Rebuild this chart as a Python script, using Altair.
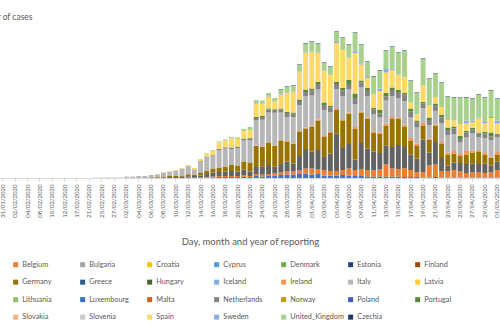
import altair as alt
import pandas as pd

dates = [
    "31/01/2020", "01/02/2020", "02/02/2020", "03/02/2020", "04/02/2020", "06/02/2020",
    "08/02/2020", "09/02/2020", "10/02/2020", "11/02/2020", "12/02/2020", "13/02/2020",
    "17/02/2020", "19/02/2020", "21/02/2020", "22/02/2020", "25/02/2020", "26/02/2020",
    "27/02/2020", "29/02/2020",
    "02/03/2020", "03/03/2020", "04/03/2020", "05/03/2020", "06/03/2020", "07/03/2020",
    "08/03/2020", "09/03/2020", "10/03/2020", "11/03/2020", "12/03/2020", "13/03/2020",
    "14/03/2020", "15/03/2020", "16/03/2020", "17/03/2020", "18/03/2020", "19/03/2020",
    "20/03/2020", "21/03/2020", "22/03/2020", "23/03/2020", "24/03/2020", "25/03/2020",
    "26/03/2020", "27/03/2020", "28/03/2020", "29/03/2020", "30/03/2020", "31/03/2020",
    "01/04/2020", "02/04/2020", "03/04/2020", "04/04/2020", "05/04/2020", "06/04/2020",
    "07/04/2020", "08/04/2020", "09/04/2020", "10/04/2020", "11/04/2020", "12/04/2020",
    "13/04/2020", "14/04/2020", "15/04/2020", "16/04/2020", "17/04/2020", "18/04/2020",
    "19/04/2020", "20/04/2020", "21/04/2020", "22/04/2020", "23/04/2020", "24/04/2020",
    "25/04/2020", "26/04/2020", "27/04/2020", "28/04/2020", "29/04/2020", "30/04/2020",
    "01/05/2020",
]

# stacking order (bottom to top) and Excel-style series colours
countries = [
    "Austria", "Belgium", "Bulgaria", "Croatia", "Cyprus", "Denmark", "Estonia", "Finland",
    "France", "Germany", "Greece", "Hungary", "Iceland", "Ireland", "Italy", "Latvia",
    "Liechtenstein", "Lithuania", "Luxembourg", "Malta", "Netherlands", "Norway", "Poland",
    "Portugal", "Romania", "Slovakia", "Slovenia", "Spain", "Sweden", "United_Kingdom", "Czechia",
]
colors = [
    "#4472C4", "#ED7D31", "#A5A5A5", "#FFC000", "#5B9BD5", "#70AD47", "#264478", "#9E480E",
    "#636363", "#997300", "#255E91", "#43682B", "#7CAFDD", "#F1975A", "#B7B7B7", "#FFCD33",
    "#698ED0", "#8CC168", "#3A70C0", "#D26012", "#848484", "#CC9A00", "#3F5FB8",
    "#5A8A39", "#9DC3E6", "#F4B183", "#C9C9C9", "#FFD966", "#8FAADC", "#A9D18E", "#203864",
]
legend_countries = [
    "Belgium", "Bulgaria", "Croatia", "Cyprus", "Denmark", "Estonia", "Finland",
    "Germany", "Greece", "Hungary", "Iceland", "Ireland", "Italy", "Latvia",
    "Lithuania", "Luxembourg", "Malta", "Netherlands", "Norway", "Poland", "Portugal",
    "Slovakia", "Slovenia", "Spain", "Sweden", "United_Kingdom", "Czechia",
]

austria = [0]*22 + [0, 0, 0, 0, 0, 0, 0, 0, 0, 0, 0, 100, 150, 200, 200, 200, 200, 250, 200,
    400, 300, 400, 500, 600, 700, 700, 800, 900, 700, 800, 500, 500, 500, 600, 500, 400, 400,
    300, 300, 300, 300, 300, 300, 200, 200, 200, 100, 100, 200, 100, 100, 100, 100, 100, 100,
    100, 100, 100, 100]
belgium = [0]*22 + [0, 0, 0, 0, 0, 0, 0, 0, 50, 50, 100, 100, 150, 200, 200, 200, 200, 250, 200,
    400, 350, 400, 450, 500, 600, 600, 700, 1000, 1200, 1000, 1100, 900, 900, 1000, 1400, 1200, 1400,
    1300, 1200, 1400, 2400, 1600, 1500, 1700, 1400, 1000, 1100, 2400, 2500, 1300, 1300, 1500, 1200,
    900, 1000, 1100, 900, 1000, 1500]
france = [0]*20 + [10, 20, 0, 100, 100, 100, 150, 200, 200, 250, 300, 350, 400, 600, 800, 800, 900,
    1000, 900, 1200, 900, 1400, 1600, 1800, 1300, 1700, 2000, 1600, 2900, 3900, 3400, 3800, 2600,
    3500, 7500, 4400, 4900, 2100, 5200, 4300, 3800, 3300, 3800, 4300, 4800, 4300, 3100, 2700, 6500,
    2600, 4500, 2600, 1100, 1500, 1700, 1800, 1800, 1600, 1900, 1400, 1700]
germany = [0]*20 + [20, 30, 0, 0, 50, 100, 150, 200, 200, 250, 400, 300, 500, 700, 800, 900, 1000,
    1200, 1200, 1600, 1800, 4200, 4000, 4500, 4200, 4700, 4000, 3900, 4800, 4100, 5000, 5900, 4000,
    4100, 4700, 5400, 6100, 6100, 6100, 5900, 3700, 3800, 4000, 5600, 5200, 4100, 2700, 2500, 2800,
    2500, 3300, 2900, 2200, 1800, 1500, 1800, 2200, 2400, 1700, 1600, 1300]
italy = [0]*14 + [20, 60, 50, 90, 90, 80, 250, 240, 400, 300, 450, 550, 800, 900, 1100, 1300, 1500,
    900, 2300, 2600, 2500, 3500, 3600, 3200, 3500, 4200, 4400, 5000, 5300, 5900, 6500, 5500, 4800,
    5200, 5200, 6200, 6000, 6000, 5200, 4000, 4000, 4800, 4700, 4600, 4800, 4300, 3600, 3000, 4600,
    4200, 3900, 4700, 4100, 3200, 3000, 2700, 2700, 3800, 3500, 3400, 2300, 2700, 3400, 2600, 3000,
    3300, 3000]
netherlands = [0]*22 + [0, 0, 0, 0, 0, 0, 0, 50, 100, 100, 100, 200, 150, 200, 250, 300, 300, 350,
    400, 500, 550, 600, 550, 600, 800, 700, 800, 900, 1000, 1100, 1000, 900, 1000, 1100, 1000, 1200,
    1000, 1200, 900, 800, 800, 1200, 1200, 1300, 1200, 1000, 900, 1000, 1200, 1100, 1000, 1100, 700,
    1000, 800, 700, 900, 700, 600]
spain = [0]*22 + [0, 0, 0, 50, 100, 100, 100, 150, 200, 300, 300, 600, 900, 1300, 1300, 1800, 1500,
    1500, 1600, 2600, 2400, 2300, 1600, 2800, 3900, 4200, 5600, 7400, 7300, 5800, 6300, 6300, 7800,
    7700, 4400, 8100, 3200, 2000, 2700, 3800, 4100, 3500, 3000, 3200, 1200, 1200, 3300, 2400, 1300,
    1600, 1500, 1200, 2400, 1500, 1200, 2800, 1800, 2900, 2100]
united_kingdom = [0]*22 + [0, 0, 0, 0, 0, 0, 0, 0, 50, 0, 100, 100, 150, 200, 250, 300, 300, 400,
    600, 700, 600, 700, 600, 800, 1000, 1000, 1200, 1600, 1900, 1700, 1500, 1400, 2000, 2200, 2500,
    3800, 3700, 3000, 3600, 3600, 3600, 4300, 4300, 5200, 4300, 4300, 5300, 5300, 4600, 4800, 4600,
    4600, 5200, 4600, 4300, 4600, 4900, 5300, 4300]
ireland = [0]*22 + [0, 0, 0, 0, 0, 0, 0, 0, 0, 0, 0, 0, 0, 0, 0, 0, 0, 0, 0, 100, 100, 100, 100, 100,
    100, 150, 200, 200, 200, 200, 200, 200, 200, 200, 200, 400, 200, 300, 200, 300, 400, 400, 300,
    400, 600, 500, 500, 300, 200, 300, 400, 500, 300, 800, 400, 400, 400, 200, 600]
portugal = [0]*22 + [0, 0, 0, 0, 0, 0, 0, 0, 0, 0, 0, 0, 0, 0, 0, 0, 0, 50, 100, 200, 200, 200,
    150, 200, 200, 250, 300, 500, 400, 400, 500, 300, 400, 500, 800, 900, 400, 400, 300, 700, 700,
    500, 400, 300, 600, 400, 300, 500, 300, 500, 500, 400, 600, 300, 300, 200, 300, 800]
sweden = [0]*22 + [0, 0, 0, 0, 0, 0, 0, 0, 0, 0, 0, 0, 0, 0, 0, 0, 0, 0, 0, 100, 100, 100, 50, 100,
    100, 100, 100, 200, 100, 100, 100, 100, 200, 100, 100, 200, 200, 200, 0, 500, 700, 300, 100, 0,
    0, 0, 0, 0, 0, 0, 0, 0, 0, 600, 300, 200, 200, 200, 600]
czechia = [0]*45 + [100]*36

series = {
    "Austria": austria, "Belgium": belgium, "France": france, "Germany": germany,
    "Italy": italy, "Netherlands": netherlands, "Spain": spain,
    "United_Kingdom": united_kingdom, "Ireland": ireland, "Portugal": portugal,
    "Sweden": sweden, "Czechia": czechia,
}

rows = []
for i, c in enumerate(countries):
    vals = series.get(c)
    if vals is None:
        continue
    for d, v in zip(dates, vals):
        rows.append({"date": d, "country": c, "cases": v, "order": i})
df = pd.DataFrame(rows)

label_dates = dates[::2]
FONT = "Lato"
GREY = "#595959"

chart = alt.Chart(df).mark_bar().encode(
    x=alt.X(
        "date:N", sort=dates,
        scale=alt.Scale(paddingInner=0.2, paddingOuter=0.05),
        axis=alt.Axis(
            values=label_dates, labelAngle=270, labelFontSize=6, labelFont=FONT,
            labelColor=GREY, labelPadding=3, tickSize=3, tickColor="#d9d9d9",
            domainColor="#d9d9d9", title="Day, month and year of reporting",
            titleFont=FONT, titleFontSize=9.5, titleFontWeight="normal", titleColor=GREY,
            titleY=63, titleBaseline="middle", labelOverlap=False,
        ),
    ),
    y=alt.Y(
        "cases:Q", stack="zero",
        scale=alt.Scale(domain=[0, 35600], nice=False),
        axis=alt.Axis(
            title="Number of cases", titleAngle=0, titleAlign="right", titleBaseline="middle",
            titleX=32, titleY=16, titleFont=FONT, titleFontSize=8.5, titleFontWeight="normal",
            titleColor=GREY, labels=False, ticks=False, domain=False, grid=False,
        ),
    ),
    color=alt.Color(
        "country:N",
        scale=alt.Scale(domain=countries, range=colors),
        legend=alt.Legend(
            values=legend_countries, title=None, orient="none", legendX=12, legendY=261,
            direction="horizontal", columns=7, symbolType="square", symbolSize=25,
            symbolStrokeWidth=0, labelFont=FONT, labelFontSize=7.3, labelColor=GREY,
            gridAlign="all", columnPadding=3, rowPadding=9.5, labelLimit=80, labelOffset=3,
        ),
    ),
    order=alt.Order("order:Q"),
).properties(
    width=500, height=178,
    autosize=alt.AutoSizeParams(type="none"),
    padding={"left": 0, "top": 0, "right": 0, "bottom": 157},
).configure_view(strokeWidth=0)

chart.save("out.html", embed_options={"renderer": "svg", "actions": False})
